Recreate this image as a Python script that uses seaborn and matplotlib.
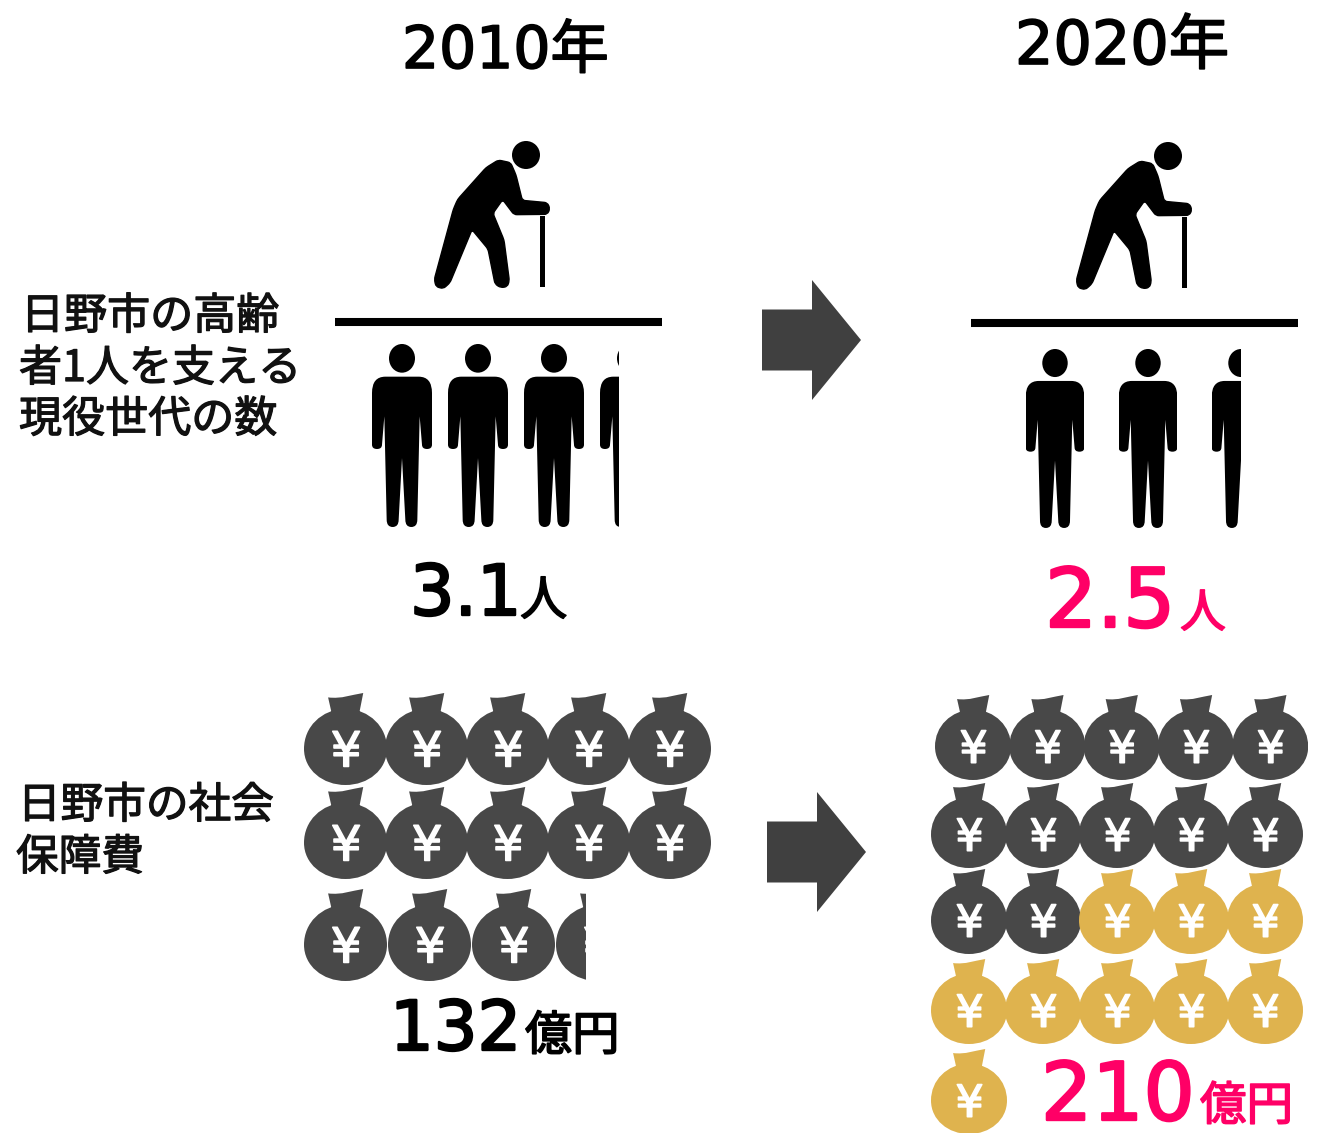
import matplotlib
matplotlib.use("Agg")
import numpy as np
import matplotlib.pyplot as plt
import seaborn as sns
from matplotlib.patches import PathPatch, Rectangle, Ellipse, Circle, Polygon
from matplotlib.path import Path
from matplotlib.transforms import Affine2D
import matplotlib.patheffects as pe

# Figures for Hino city
years = ["2010年", "2020年"]
workers_per_elder = [3.1, 2.5]
social_cost_oku = [132, 210]
yen_per_bag_oku = 10
grey_bags = [14, 12]
row_labels_top = ["日野市の高齢", "者1人を支える", "現役世代の数"]
row_labels_bottom = ["日野市の社会", "保障費"]
person_unit = "人"
cost_unit = "億円"

BLACK = "#000000"
GREY = "#484848"
GOLD = "#DFB34E"
PINK = "#FF0066"
ARROW = "#404040"
CJK = "Noto Sans CJK JP"
DPI = 100
W, H = 1321, 1133

sns.set_theme(style="white")
plt.rcParams["font.family"] = ["DejaVu Sans", CJK]

fig = plt.figure(figsize=(W / DPI, H / DPI), dpi=DPI, facecolor="white")
ax = fig.add_axes([0, 0, 1, 1])
ax.set_xlim(0, W)
ax.set_ylim(H, 0)
ax.axis("off")
sns.despine(ax=ax, left=True, bottom=True)

M, L, C3, C4, Z = Path.MOVETO, Path.LINETO, Path.CURVE3, Path.CURVE4, Path.CLOSEPOLY


def mirrored_person():
    """Standing figure outline, symmetric about x=0, in glyph units."""
    half = [
        (L, (50, 741)), (C3, (90, 741)), (C3, (90, 790)), (L, (90, 945)),
        (C3, (90, 958)), (C3, (75, 958)), (C3, (60, 958)), (C3, (60, 945)),
        (L, (53, 860)), (L, (46, 1170)), (C3, (46, 1192)), (C3, (28, 1192)),
        (C3, (10, 1192)), (C3, (10, 1170)), (L, (0, 985)),
    ]
    verts = [(0, 741)]
    codes = [M]
    for code, p in half:
        codes.append(code)
        verts.append(p)
    # walk back up the left side, reflecting the right side
    pts = [(0, 741)] + [p for _, p in half]
    kinds = [M] + [c for c, _ in half]
    i = len(pts) - 1
    while i > 0:
        if kinds[i] == L:
            codes.append(L)
            verts.append((-pts[i - 1][0], pts[i - 1][1]))
            i -= 1
        else:
            codes += [C3, C3]
            verts += [(-pts[i - 1][0], pts[i - 1][1]), (-pts[i - 2][0], pts[i - 2][1])]
            i -= 2
    codes.append(Z)
    verts.append((0, 741))
    return Path(verts, codes)


def rounded_outline(points, radius):
    """Closed outline through the given corners, each corner softened by a quadratic."""
    pts = np.asarray(points, float)
    n = len(pts)
    verts, codes = [], []
    for i in range(n):
        prev_pt, here, next_pt = pts[i - 1], pts[i], pts[(i + 1) % n]
        a, b = prev_pt - here, next_pt - here
        la, lb = np.hypot(*a), np.hypot(*b)
        start = here + a / la * min(radius, la / 2)
        end = here + b / lb * min(radius, lb / 2)
        verts += [start, here, end]
        codes += [M if i == 0 else L, C3, C3]
    verts.append(verts[0])
    codes.append(Z)
    return Path(verts, codes)


PERSON = mirrored_person()
# Pear-shaped sack and its tied neck, wound the same way so the overlap stays filled
BAG = Path(
    [(151, 70), (78, 75), (27, 125), (27, 190), (27, 252), (83, 297), (151, 297),
     (219, 297), (275, 252), (275, 190), (275, 125), (224, 75), (151, 70),
     (204, 25), (170, 30), (140, 43), (99, 38), (112, 95), (190, 95), (204, 25)],
    [M, C4, C4, C4, C4, C4, C4, C4, C4, C4, C4, C4, C4,
     M, C4, C4, C4, L, L, Z],
)
ELDER = rounded_outline([
    (505, 90), (542, 98), (558, 135), (577, 211), (652, 218), (660, 236), (652, 253),
    (552, 254), (518, 209), (489, 250), (522, 330), (538, 452), (532, 470), (512, 473),
    (495, 462), (474, 357), (426, 299), (360, 458), (340, 476), (318, 470), (313, 448),
    (370, 238), (383, 208), (468, 113),
], 9)


def visible_share(fraction, inset=0.275):
    """A part icon's value scale runs over the central band of the glyph's width."""
    return inset + fraction * (1 - 2 * inset) if fraction else 1.0


def clipped(artist, x0, y0, w, h):
    artist.set_clip_path(Rectangle((x0, y0), w, h, transform=ax.transData))
    return artist


def draw_person(cx, top, scale, share=1.0):
    left = cx - 90 * scale
    visible = 180 * scale * share
    tf = Affine2D().translate(0, -643).scale(scale).translate(cx, top)
    body = PathPatch(PERSON.transformed(tf), fc=BLACK, ec="none")
    head = Ellipse((cx, top + 43 * scale), 78 * scale, 86 * scale, fc=BLACK, ec="none")
    for art in (body, head):
        ax.add_patch(art)
        clipped(art, left, top - 5, visible, 240)


def draw_elder(dx, dy):
    scale = 1 / 3
    tf = Affine2D().scale(scale).translate(dx, dy)
    ax.add_patch(PathPatch(ELDER.transformed(tf), fc=BLACK, ec=BLACK, lw=1.0))
    ax.add_patch(Circle((588 * scale + dx, 75 * scale + dy), 14, fc=BLACK, ec="none"))
    ax.add_patch(Rectangle((629 * scale + dx, 258 * scale + dy), 5, 71, fc=BLACK, ec="none"))


def draw_bag(cx, top, width, height, colour, share=1.0):
    sx, sy = width / 248, height / 272
    tf = Affine2D().translate(-151, -25).scale(sx, sy).translate(cx, top)
    bag = PathPatch(BAG.transformed(tf), fc=colour, ec="none")
    ax.add_patch(bag)
    left = cx - width / 2
    clipped(bag, left, top - 5, width * share, height + 10)
    em = 0.58 * width
    yen = ax.text(cx + width * 0.008, top + height * 0.607 + em * 0.365, "¥", color="white",
                  fontsize=em * 72 / DPI, ha="center", va="baseline", family=["DejaVu Sans"],
                  path_effects=[pe.withStroke(linewidth=1.2, foreground="white")])
    yen.set_clip_on(True)
    clipped(yen, left, top - 5, width * share, height + 10)


def draw_bag_grid(total, greys, starts, pitches, tops, width, height, per_row=5):
    whole = int(total)
    fraction = round(total - whole, 6)
    for n in range(whole + (1 if fraction else 0)):
        row, col = divmod(n, per_row)
        share = visible_share(fraction) if n == whole else 1.0
        colour = GREY if n < greys else GOLD
        draw_bag(starts[row] + col * pitches[row], tops[row], width, height, colour, share)


def draw_people(value, first, pitch, top, scale):
    whole = int(value)
    fraction = round(value - whole, 6)
    for n in range(whole + (1 if fraction else 0)):
        share = visible_share(fraction) if n == whole else 1.0
        draw_person(first + n * pitch, top, scale, share)


def draw_arrow(x, ymid):
    shaft_half, head_half = 30.5, 60
    pts = [(x, ymid - shaft_half), (x + 50, ymid - shaft_half), (x + 50, ymid - head_half),
           (x + 99, ymid), (x + 50, ymid + head_half), (x + 50, ymid + shaft_half),
           (x, ymid + shaft_half)]
    ax.add_patch(Polygon(pts, closed=True, fc=ARROW, ec="none"))


def cjk_text(x, y, text, size, colour="#111111", stroke=0.9):
    ax.text(x, y, text, color=colour, fontsize=size, ha="left", va="baseline", family=CJK,
            path_effects=[pe.withStroke(linewidth=stroke, foreground=colour)])


def stat(x, y, number, unit, size, unit_x, unit_size, colour):
    ax.text(x, y, str(number), color=colour, fontsize=size, ha="left", va="baseline",
            path_effects=[pe.withStroke(linewidth=1.7, foreground=colour)])
    cjk_text(unit_x, y, unit, unit_size, colour, 1.2)


# Year headings
for label, x, y, size in zip(years, (402, 1015), (68, 64), (42, 43.5)):
    ax.text(x, y, label, color=BLACK, fontsize=size, ha="left", va="baseline",
            path_effects=[pe.withStroke(linewidth=1.2, foreground=BLACK)])

# Row headings
for line, x, y in zip(row_labels_top, (21, 19, 19), (329, 381, 432)):
    cjk_text(x, y, line, 31)
for line, x, y in zip(row_labels_bottom, (18, 16), (818, 870)):
    cjk_text(x, y, line, 30.7)

# Elder over working-age supporters
draw_elder(330, 130)
draw_elder(972, 131)
sns.lineplot(x=[335, 662], y=[321.5, 321.5], ax=ax, color=BLACK, linewidth=5.8, legend=False,
             solid_capstyle="butt")
sns.lineplot(x=[971, 1298], y=[323, 323], ax=ax, color=BLACK, linewidth=5.8, legend=False,
             solid_capstyle="butt")
draw_people(workers_per_elder[0], 402, 76, 344, 1 / 3)
draw_people(workers_per_elder[1], 1055, 93, 349, 0.326)

# Social security cost, one bag per ten oku yen
draw_bag_grid(social_cost_oku[0] / yen_per_bag_oku, grey_bags[0],
              (345.5, 345.5, 345.5), (81, 81, 84), (693, 787, 889), 83, 92)
draw_bag_grid(social_cost_oku[1] / yen_per_bag_oku, grey_bags[1],
              (973, 969, 969, 969, 969), (74.3, 74, 74, 74, 74),
              (695, 783, 869, 959, 1049), 76, 85)

draw_arrow(762, 340)
draw_arrow(767, 852)

stat(410, 615, workers_per_elder[0], person_unit, 50.5, 520, 34, BLACK)
stat(1045, 627, workers_per_elder[1], person_unit, 59, 1180, 33, PINK)
stat(390, 1050, social_cost_oku[0], cost_unit, 49.5, 525, 34, BLACK)
stat(1041, 1120, social_cost_oku[1], cost_unit, 58, 1200, 33.5, PINK)

fig.savefig("out.png", dpi=DPI, facecolor="white")
